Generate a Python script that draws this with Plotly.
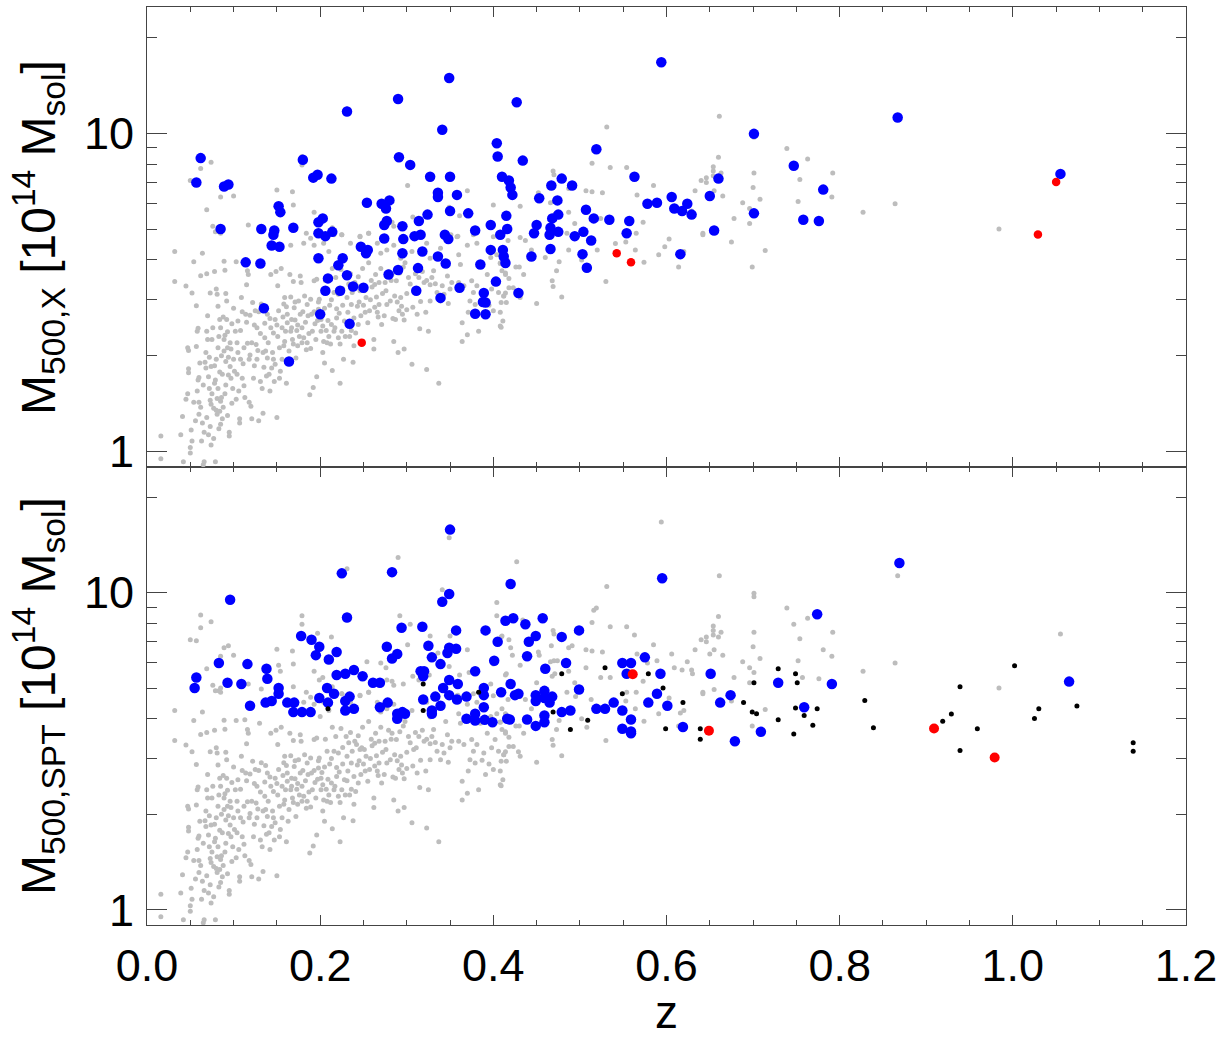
import plotly.graph_objects as go

# ---------------- data ----------------
# background sample (same in both panels)
gray_z = [
    0.016, 0.016, 0.032, 0.032, 0.039, 0.041, 0.042, 0.045, 0.045, 0.047,
    0.048, 0.048, 0.048, 0.047, 0.051, 0.052, 0.054, 0.054, 0.050, 0.050,
    0.052, 0.057, 0.057, 0.058, 0.059, 0.060, 0.060, 0.059, 0.060, 0.062,
    0.063, 0.064, 0.064, 0.065, 0.066, 0.067, 0.068, 0.069, 0.069, 0.070,
    0.070, 0.071, 0.072, 0.072, 0.073, 0.073, 0.074, 0.074, 0.075, 0.077,
    0.078, 0.078, 0.078, 0.079, 0.080, 0.080, 0.081, 0.081, 0.081, 0.082,
    0.082, 0.083, 0.084, 0.084, 0.085, 0.085, 0.085, 0.087, 0.087, 0.089,
    0.089, 0.089, 0.090, 0.090, 0.090, 0.091, 0.092, 0.092, 0.093, 0.094,
    0.094, 0.095, 0.095, 0.097, 0.097, 0.099, 0.100, 0.101, 0.102, 0.103,
    0.103, 0.105, 0.105, 0.107, 0.107, 0.109, 0.110, 0.110, 0.111, 0.112,
    0.113, 0.114, 0.115, 0.116, 0.116, 0.117, 0.118, 0.119, 0.120, 0.121,
    0.122, 0.124, 0.125, 0.126, 0.127, 0.128, 0.129, 0.130, 0.131, 0.132,
    0.133, 0.134, 0.135, 0.136, 0.136, 0.137, 0.138, 0.139, 0.139, 0.141,
    0.142, 0.142, 0.143, 0.144, 0.145, 0.146, 0.147, 0.148, 0.149, 0.150,
    0.150, 0.151, 0.152, 0.153, 0.154, 0.155, 0.156, 0.157, 0.158, 0.159,
    0.159, 0.160, 0.161, 0.162, 0.162, 0.164, 0.165, 0.166, 0.166, 0.167,
    0.169, 0.169, 0.170, 0.171, 0.172, 0.173, 0.174, 0.175, 0.176, 0.177,
    0.178, 0.179, 0.180, 0.181, 0.182, 0.184, 0.185, 0.186, 0.188, 0.189,
    0.189, 0.191, 0.192, 0.193, 0.193, 0.194, 0.196, 0.196, 0.197, 0.198,
    0.199, 0.200, 0.201, 0.202, 0.203, 0.203, 0.204, 0.205, 0.206, 0.207,
    0.208, 0.209, 0.210, 0.211, 0.212, 0.213, 0.214, 0.214, 0.216, 0.216,
    0.218, 0.219, 0.219, 0.221, 0.221, 0.223, 0.223, 0.224, 0.225, 0.226,
    0.227, 0.228, 0.229, 0.230, 0.231, 0.232, 0.233, 0.234, 0.235, 0.236,
    0.237, 0.238, 0.239, 0.239, 0.241, 0.242, 0.243, 0.244, 0.244, 0.246,
    0.247, 0.248, 0.249, 0.250, 0.252, 0.253, 0.255, 0.256, 0.257, 0.259,
    0.260, 0.262, 0.262, 0.263, 0.264, 0.265, 0.266, 0.267, 0.268, 0.270,
    0.271, 0.272, 0.274, 0.275, 0.277, 0.279, 0.281, 0.283, 0.284, 0.285,
    0.286, 0.287, 0.288, 0.290, 0.291, 0.292, 0.293, 0.294, 0.295, 0.296,
    0.297, 0.297, 0.298, 0.300, 0.300, 0.302, 0.304, 0.306, 0.307, 0.308,
    0.310, 0.311, 0.312, 0.314, 0.315, 0.316, 0.318, 0.320, 0.322, 0.323,
    0.323, 0.325, 0.327, 0.327, 0.329, 0.331, 0.333, 0.335, 0.337, 0.339,
    0.341, 0.343, 0.345, 0.347, 0.348, 0.350, 0.352, 0.360, 0.362, 0.364,
    0.364, 0.366, 0.370, 0.371, 0.373, 0.375, 0.377, 0.379, 0.381, 0.383,
    0.385, 0.387, 0.389, 0.391, 0.393, 0.395, 0.397, 0.398, 0.400, 0.402,
    0.406, 0.408, 0.409, 0.412, 0.414,
    0.083, 0.166, 0.181, 0.189, 0.193, 0.204, 0.210, 0.216, 0.225, 0.235,
    0.246, 0.256, 0.266, 0.270, 0.277, 0.285, 0.293, 0.306, 0.323, 0.327,
    0.339, 0.358, 0.360, 0.370, 0.381, 0.400, 0.404, 0.408,
    0.050, 0.057, 0.062, 0.062, 0.074, 0.069, 0.076, 0.079, 0.085, 0.085,
    0.089, 0.094, 0.085, 0.100, 0.117, 0.132, 0.150, 0.152, 0.154, 0.168,
    0.169, 0.169, 0.179, 0.179, 0.184, 0.193, 0.197, 0.199, 0.203, 0.213,
    0.214, 0.225, 0.231, 0.246, 0.254, 0.256, 0.270, 0.276, 0.277, 0.283,
    0.285, 0.290, 0.292, 0.296, 0.304, 0.301, 0.307, 0.314, 0.327, 0.326,
    0.336, 0.341, 0.349, 0.350, 0.349, 0.351, 0.359, 0.361, 0.370, 0.372,
    0.377, 0.397, 0.404, 0.404, 0.409, 0.400, 0.414,
    0.427, 0.410, 0.415, 0.418, 0.420, 0.422, 0.431, 0.434, 0.452, 0.453,
    0.450, 0.467, 0.469, 0.470, 0.466, 0.470, 0.474, 0.468, 0.471, 0.487,
    0.491, 0.487, 0.485, 0.494, 0.507, 0.507, 0.514, 0.526, 0.514, 0.516,
    0.519, 0.531, 0.535, 0.554, 0.563, 0.566, 0.585, 0.589, 0.578, 0.524,
    0.535, 0.573, 0.594, 0.606, 0.609, 0.618, 0.624, 0.629, 0.630, 0.633,
    0.640, 0.646, 0.646, 0.650, 0.655, 0.654, 0.654, 0.660, 0.660, 0.654,
    0.663, 0.661, 0.665, 0.642, 0.655, 0.678, 0.688, 0.696, 0.701, 0.701,
    0.701, 0.700, 0.701, 0.708, 0.696, 0.739, 0.747, 0.754, 0.752, 0.757,
    0.763, 0.781, 0.791, 0.792, 0.776,
    0.431, 0.437, 0.444, 0.417, 0.410, 0.414, 0.416, 0.408, 0.410, 0.414,
    0.418, 0.423, 0.418, 0.414, 0.412, 0.415, 0.429, 0.431, 0.435, 0.411,
    0.409, 0.408, 0.426, 0.430, 0.450, 0.468, 0.469, 0.479, 0.473, 0.460,
    0.476, 0.487, 0.495, 0.502, 0.508, 0.513, 0.520, 0.530, 0.541, 0.553,
    0.564, 0.574, 0.591, 0.598, 0.603, 0.614, 0.616, 0.620, 0.642, 0.675,
    0.699, 0.714, 0.565, 0.554,
    0.867, 0.864, 0.827, 0.984, 1.055,
    0.056, 0.058, 0.061, 0.062, 0.065, 0.066, 0.068, 0.069, 0.071, 0.073,
    0.074, 0.075, 0.076, 0.077, 0.079, 0.080, 0.082, 0.083, 0.084, 0.086,
    0.086, 0.088, 0.088, 0.091, 0.091, 0.093, 0.093, 0.096, 0.096, 0.098,
    0.098, 0.100, 0.104, 0.104, 0.106, 0.108, 0.108, 0.112, 0.113, 0.115,
    0.118, 0.119, 0.121, 0.123, 0.124, 0.127, 0.129, 0.131, 0.134, 0.137,
    0.140, 0.143, 0.146, 0.148, 0.151, 0.153, 0.156, 0.158, 0.161, 0.163,
    0.167, 0.168, 0.171, 0.174, 0.177, 0.179, 0.183, 0.185, 0.187, 0.190,
    0.195, 0.198, 0.201, 0.205, 0.208, 0.213, 0.217, 0.222, 0.226, 0.231,
    0.236, 0.240, 0.245, 0.251, 0.258, 0.263, 0.268, 0.276, 0.282, 0.289,
]
gray_m = [
    1.12, 0.95, 4.25, 3.42, 1.13, 1.29, 0.93, 3.31, 1.46, 2.12,
    2.08, 1.82, 1.77, 1.52, 1.17, 3.15, 3.95, 1.43, 1.03, 0.99,
    1.08, 2.87, 2.14, 2.39, 2.44, 1.43, 1.31, 1.68, 1.71, 3.57,
    1.08, 4.2, 1.23, 0.91, 0.93, 1.91, 1.83, 3.62, 2.39, 2.67,
    2.25, 1.13, 1.58, 1.98, 1.45, 3.15, 1.41, 1.05, 2.25, 1.37,
    3.68, 1.86, 1.64, 0.93, 1.95, 3.24, 3.12, 1.31, 1.47, 2.86,
    2.12, 1.18, 2.6, 1.34, 1.22, 2.45, 1.44, 1.27, 1.75, 2.07,
    2.25, 3.96, 3.71, 1.52, 2.32, 3.14, 2.97, 2.6, 2.12, 1.74,
    1.98, 1.15, 1.12, 1.7, 2.1, 1.58, 2.82, 1.79, 2.39, 1.46,
    3.95, 2.05, 2.57, 1.27, 1.23, 3.05, 1.7, 2.75, 1.89, 1.61,
    3.97, 2.7, 3.34, 3.7, 2.19, 3.6, 1.43, 2.01, 1.39, 1.27,
    2.94, 1.86, 2.77, 2.17, 2.45, 2.08, 1.25, 3.87, 1.66, 2.91,
    1.58, 1.32, 1.84, 2.53, 2.28, 2.07, 1.73, 1.97, 2.7, 1.75,
    1.55, 2.62, 3.6, 1.83, 2.05, 2.36, 1.66, 1.88, 3.68, 1.28,
    2.5, 3.32, 2.77, 2.12, 1.79, 3.76, 1.95, 2.65, 2.91, 3.05,
    2.22, 2.39, 1.64, 2.7, 2.54, 2.07, 3.6, 3.06, 2.39, 2.45,
    3.42, 2.18, 2.83, 2.59, 1.97, 2.4, 2.15, 2.97, 2.3, 3.56,
    3.4, 2.45, 2.75, 2.28, 3.08, 2.09, 2.2, 2.67, 1.51, 3.01,
    2.11, 2.39, 1.59, 3.44, 2.75, 2.52, 3.48, 1.72, 2.58, 2.8,
    3.01, 4.07, 2.39, 2.71, 2.05, 2.48, 2.22, 1.9, 3.45, 2.4,
    3.16, 2.58, 2.3, 2.88, 2.18, 2.51, 1.8, 3.76, 2.39, 3.16,
    3.52, 2.63, 2.81, 2.28, 3.12, 2.18, 1.64, 3.73, 2.39, 2.88,
    1.95, 2.57, 2.3, 3.52, 3.05, 2.74, 3.36, 2.3, 3.62, 2.4,
    3.16, 1.91, 2.15, 2.63, 2.36, 3.32, 2.86, 2.51, 3.54, 3.2,
    2.67, 3.24, 3.76, 2.88, 2.74, 3.05, 2.54, 3.92, 2.77, 3.45,
    3.29, 2.25, 2.1, 2.84, 3.6, 3.06, 2.74, 2.65, 3.4, 3.76,
    2.51, 3.14, 2.67, 3.4, 2.9, 3.68, 2.97, 3.6, 2.62, 2.22,
    3.08, 2.6, 3.44, 2.05, 2.77, 3.64, 3.05, 2.86, 2.7, 3.8,
    2.59, 2.1, 3.92, 3.14, 2.79, 3.52, 3.36, 1.88, 2.84, 3.2,
    3.62, 3.24, 2.7, 3.52, 2.43, 2.96, 3.68, 3.4, 2.74, 1.81,
    3.45, 2.39, 3.34, 2.97, 3.52, 3.7, 3.37, 3.16, 1.64, 2.97,
    3.32, 3.12, 3.92, 3.56, 2.92, 3.24, 3.4, 3.4, 3.87, 2.54,
    2.22, 3.32, 2.33, 2.74, 2.97, 3.44, 3.16, 2.9, 3.32, 2.39,
    3.87, 2.96, 3.12, 2.67, 3.6, 2.88, 4.07, 3.24, 2.77, 3.44,
    3.16, 2.48, 2.94, 3.08, 3.64,
    4.9, 4.45, 4.51, 4.68, 4.45, 4.51, 4.25, 4.8, 4.8, 4.51,
    4.73, 4.85, 4.51, 4.2, 4.3, 4.45, 4.05, 4.25, 4.51, 4.05,
    4.35, 4.73, 4.15, 4.45, 4.51, 4.73, 4.15, 3.91,
    7.1, 7.05, 8.5, 7.75, 8.1, 5.75, 5.1, 4.9, 5.0, 4.85,
    6.7, 6.8, 6.3, 6.35, 5.15, 4.97, 6.63, 5.9, 5.65, 6.55,
    5.95, 5.05, 8.45, 7.95, 4.85, 5.65, 7.45, 5.3, 5.4, 7.25,
    5.05, 4.8, 11.9, 4.75, 6.05, 4.85, 6.0, 5.8, 5.3, 5.25,
    5.1, 12.9, 8.45, 5.15, 7.95, 6.85, 5.45, 5.3, 7.3, 5.5,
    6.45, 10.2, 14.9, 7.3, 5.85, 4.8, 4.75, 5.5, 6.6, 5.6,
    4.8, 5.15, 9.3, 8.45, 7.25, 5.95, 5.5,
    12.5, 7.3, 5.55, 7.1, 6.7, 6.35, 5.9, 8.2, 6.5, 6.35,
    5.2, 6.8, 7.6, 7.4, 6.05, 6.1, 6.1, 5.45, 5.55, 6.7,
    6.8, 5.65, 4.85, 5.2, 6.6, 5.8, 6.55, 6.5, 8.05, 8.8,
    8.95, 10.45, 7.8, 7.8, 7.35, 6.4, 6.85, 6.1, 6.0, 5.4,
    5.4, 5.25, 16.7, 6.4, 5.8, 5.7, 6.05, 5.7, 5.55, 6.6,
    7.1, 7.25, 7.0, 6.4, 6.6, 7.6, 7.35, 7.25, 8.4, 7.85,
    7.5, 11.3, 6.35, 4.85, 4.95, 5.4, 6.05, 5.8, 9.95, 9.7,
    7.5, 6.75, 5.6, 6.2, 5.2, 8.95, 7.95, 7.15, 6.1, 5.4,
    8.3, 6.6, 6.3, 7.5, 5.35,
    4.7, 4.6, 4.3, 4.6, 4.3, 4.15, 4.0, 3.9, 3.7, 3.6,
    3.5, 3.27, 3.27, 3.15, 3.08, 2.94, 3.15, 3.05, 3.6, 2.57,
    2.46, 2.74, 3.8, 3.8, 2.92, 3.44, 3.3, 3.06, 3.7, 4.07,
    3.95, 4.3, 4.7, 4.0, 3.76, 4.6, 4.3, 3.42, 4.5, 4.55,
    4.3, 3.93, 4.15, 4.4, 4.65, 3.8, 4.17, 4.25, 4.8, 4.55,
    3.8, 4.28, 4.85, 4.85,
    11.3, 6.0, 5.65, 5.0, 7.4,
    1.25, 1.55, 1.9, 1.38, 1.62, 1.15, 2.05, 1.28, 1.72, 1.2,
    1.85, 1.52, 2.45, 1.1, 1.68, 1.35, 1.58, 2.3, 1.78, 1.48,
    2.0, 1.38, 2.65, 1.62, 1.92, 1.3, 2.38, 1.85, 2.2, 1.42,
    2.52, 1.95, 1.75, 2.2, 1.55, 2.4, 1.95, 2.12, 1.48, 2.55,
    1.95, 2.68, 2.2, 1.7, 2.5, 1.95, 2.75, 2.35, 2.05, 2.85,
    2.2, 2.45, 1.95, 2.6, 2.3, 1.7, 2.45, 2.15, 2.85, 1.9,
    2.6, 2.25, 2.95, 2.5, 2.7, 2.2, 2.55, 2.9, 2.35, 2.7,
    2.25, 2.95, 2.6, 2.82, 2.2, 3.0, 2.45, 2.72, 3.25, 2.55,
    2.9, 3.4, 2.95, 3.2, 3.0, 3.35, 2.9, 3.2, 3.45, 2.95,
]

# top panel: X-ray masses
xray_blue_z = [
    0.057, 0.062, 0.085, 0.089, 0.094, 0.132, 0.147, 0.146, 0.152, 0.154,
    0.169, 0.180, 0.192, 0.197, 0.213, 0.198, 0.203, 0.198, 0.206, 0.214,
    0.231, 0.254, 0.271, 0.276, 0.280, 0.277, 0.274, 0.274, 0.290, 0.291,
    0.304, 0.295, 0.296, 0.314, 0.324, 0.309, 0.316, 0.327, 0.336, 0.336,
    0.341, 0.349, 0.350, 0.350, 0.358, 0.344, 0.348, 0.371, 0.379, 0.397,
    0.404, 0.405, 0.410, 0.415, 0.408,
    0.427, 0.434, 0.418, 0.420, 0.422, 0.416, 0.453, 0.467, 0.479, 0.491,
    0.474, 0.475, 0.468, 0.466, 0.465, 0.475, 0.450, 0.447, 0.507, 0.516,
    0.504, 0.494, 0.513, 0.519, 0.534, 0.557, 0.554, 0.563, 0.578, 0.589,
    0.606, 0.609, 0.618, 0.624, 0.629, 0.594, 0.650, 0.660, 0.655, 0.701,
    0.701, 0.747, 0.758, 0.776, 0.781,
    0.144, 0.153, 0.114, 0.131, 0.198, 0.226, 0.247, 0.253, 0.255, 0.295,
    0.318, 0.336, 0.345, 0.397, 0.411, 0.414, 0.221, 0.209, 0.231, 0.206,
    0.223, 0.238, 0.250, 0.279, 0.290, 0.311, 0.313, 0.339, 0.361, 0.385,
    0.403, 0.389, 0.388, 0.391, 0.379, 0.391, 0.135, 0.200, 0.234, 0.164,
    0.412, 0.429, 0.444, 0.466, 0.503, 0.508, 0.616,
    0.867, 1.055,
]
xray_blue_m = [
    7.0, 8.35, 5.0, 6.8, 6.9, 5.0, 4.95, 4.8, 5.9, 5.65,
    5.05, 8.25, 7.25, 7.4, 7.2, 5.25, 5.4, 4.85, 4.75, 4.9,
    11.7, 6.05, 6.0, 5.8, 6.15, 5.3, 5.15, 4.67, 12.8, 8.4,
    7.95, 5.1, 4.65, 5.3, 5.55, 4.75, 4.8, 7.3, 6.5, 6.3,
    10.25, 14.9, 7.3, 5.7, 6.4, 4.8, 4.65, 5.6, 4.95, 5.15,
    9.3, 8.45, 7.3, 5.5, 4.8,
    12.5, 8.2, 7.1, 6.75, 6.4, 5.0, 6.25, 6.85, 7.2, 6.85,
    6.15, 5.55, 5.4, 5.05, 4.8, 4.9, 5.15, 4.85, 5.75, 5.4,
    4.9, 4.75, 4.6, 8.9, 5.35, 5.3, 4.85, 7.3, 6.0, 6.05,
    6.3, 5.8, 5.7, 6.0, 5.55, 16.7, 6.35, 7.2, 4.95, 9.95,
    5.6, 7.9, 5.35, 5.3, 6.65,
    4.44, 4.4, 3.93, 3.9, 4.05, 4.05, 4.4, 4.2, 4.3, 4.2,
    4.25, 4.1, 3.9, 4.3, 4.3, 3.91, 3.85, 3.5, 3.58, 3.2,
    3.2, 3.3, 3.27, 3.6, 3.72, 3.2, 3.77, 3.04, 3.27, 3.87,
    3.42, 3.15, 2.95, 2.94, 2.71, 2.7, 2.82, 2.7, 2.52, 1.92,
    4.1, 3.15, 4.1, 4.33, 4.17, 3.78, 4.17,
    11.2, 7.45,
]
xray_red_z = [0.248, 0.5425, 0.559, 1.029, 1.050]
xray_red_m = [2.2, 4.2, 3.93, 4.81, 7.03]

# bottom panel: SPT masses
spt_blue_z = [
    0.055, 0.057, 0.083, 0.093, 0.096, 0.109, 0.116, 0.138, 0.139, 0.152,
    0.152, 0.178, 0.190, 0.195, 0.199, 0.210, 0.219, 0.219, 0.229, 0.239,
    0.249, 0.261, 0.269, 0.225, 0.231, 0.208, 0.216, 0.277, 0.283, 0.289,
    0.283, 0.294, 0.318, 0.325, 0.329, 0.339, 0.316, 0.320, 0.319, 0.342,
    0.349, 0.359, 0.333, 0.319, 0.341, 0.349, 0.350, 0.357, 0.347, 0.349,
    0.357, 0.379, 0.389, 0.391, 0.405, 0.401, 0.409, 0.358, 0.369, 0.389,
    0.119, 0.137, 0.144, 0.162, 0.170, 0.169, 0.179, 0.189, 0.199, 0.209,
    0.229, 0.234, 0.229, 0.239, 0.269, 0.278, 0.289, 0.289, 0.295, 0.298,
    0.329, 0.329, 0.339, 0.349, 0.369, 0.379, 0.379, 0.389, 0.390, 0.399,
    0.416,
    0.420, 0.414, 0.423, 0.437, 0.441, 0.449, 0.457, 0.439, 0.479, 0.499,
    0.460, 0.484, 0.420, 0.425, 0.429, 0.449, 0.459, 0.459, 0.468, 0.499,
    0.549, 0.559, 0.554, 0.575, 0.593, 0.595, 0.589, 0.651, 0.674, 0.729,
    0.774, 0.791,
    0.449, 0.465, 0.419, 0.439, 0.449, 0.459, 0.459, 0.479, 0.489, 0.519,
    0.529, 0.539, 0.549, 0.549, 0.559, 0.559, 0.559, 0.579, 0.601, 0.619,
    0.662, 0.679, 0.709, 0.759,
    0.869, 1.065,
]
spt_blue_m = [
    5.0, 5.4, 6.0, 5.2, 9.5, 5.15, 5.95, 5.75, 5.35, 5.0,
    4.8, 7.3, 7.1, 6.35, 6.75, 6.15, 6.5, 5.5, 5.55, 5.7,
    5.45, 5.2, 5.2, 11.5, 8.35, 5.0, 4.8, 6.75, 6.2, 6.4,
    11.6, 7.75, 7.8, 6.8, 6.25, 5.95, 5.65, 5.65, 5.45, 5.0,
    5.3, 5.15, 4.7, 4.6, 9.35, 9.9, 15.8, 7.6, 6.45, 6.7,
    6.65, 5.65, 5.0, 7.6, 7.0, 6.1, 4.85, 4.6, 4.7, 4.75,
    4.4, 4.5, 4.55, 4.5, 4.5, 4.2, 4.2, 4.2, 4.65, 4.5,
    4.55, 4.7, 4.25, 4.3, 4.35, 4.5, 4.15, 4.0, 4.2, 4.15,
    4.25, 4.15, 4.4, 4.75, 4.0, 4.15, 3.95, 4.35, 3.97, 3.9,
    4.0,
    10.65, 8.15, 8.3, 7.95, 7.0, 7.3, 8.3, 6.3, 7.25, 7.6,
    5.75, 6.0, 5.15, 4.75, 4.8, 4.75, 4.9, 4.65, 4.7, 4.95,
    6.0, 6.0, 5.55, 6.25, 5.55, 11.1, 4.8, 5.55, 4.75, 5.2,
    8.55, 5.15,
    4.55, 4.5, 3.98, 3.98, 3.8, 4.1, 3.9, 4.2, 4.25, 4.3,
    4.3, 4.5, 4.25, 3.72, 3.98, 3.65, 3.6, 4.5, 4.4, 3.77,
    4.5, 3.4, 3.64, 4.35,
    12.4, 5.24,
]
spt_black_z = [
    0.319, 0.383, 0.209, 0.319, 0.479, 0.529, 0.579, 0.596, 0.549, 0.701,
    0.729, 0.749, 0.751, 0.469, 0.489, 0.509, 0.599, 0.619, 0.639, 0.639,
    0.689, 0.699, 0.704, 0.729, 0.747, 0.749, 0.759, 0.769, 0.774, 0.829,
    0.839, 0.919, 0.929, 0.939, 0.959, 0.939, 1.002, 1.030, 1.025, 1.074,
    1.139, 1.139,
]
spt_black_m = [
    5.15, 4.85, 4.3, 4.25, 5.55, 5.8, 5.55, 5.0, 4.8, 5.2,
    5.75, 5.55, 5.2, 4.2, 3.7, 3.96, 3.72, 4.5, 3.72, 3.45,
    4.5, 4.2, 4.15, 3.97, 3.58, 4.33, 4.1, 3.82, 4.3, 4.57,
    3.75, 3.93, 4.14, 5.05, 3.72, 3.18, 5.88, 4.3, 4.01, 4.39,
    3.36, 3.16,
]
spt_red_z = [0.561, 0.649, 0.909, 0.979]
spt_red_m = [5.53, 3.67, 3.73, 3.02]

x_tickvals = [0.0, 0.2, 0.4, 0.6, 0.8, 1.0, 1.2]
x_ticktext = ["0.0", "0.2", "0.4", "0.6", "0.8", "1.0", "1.2"]
y_tickvals = [1, 10]
y_ticktext = ["1", "10"]
y_minor = [2, 3, 4, 5, 6, 7, 8, 9, 20]

# ---------------- figure ----------------
GRAY = "#bdbdbd"
fig = go.Figure()


def pts(xs, ys, color, size, xa, ya):
    fig.add_trace(go.Scatter(
        x=xs, y=ys, mode="markers", xaxis=xa, yaxis=ya,
        marker=dict(color=color, size=size, line=dict(width=0)),
        showlegend=False, hoverinfo="skip"))


# top panel
pts(gray_z, gray_m, GRAY, 5, "x2", "y2")
pts(xray_blue_z, xray_blue_m, "#0000ff", 10.5, "x2", "y2")
pts(xray_red_z, xray_red_m, "#ff0000", 8.5, "x2", "y2")
# bottom panel
pts(gray_z, gray_m, GRAY, 5, "x", "y")
pts(spt_blue_z, spt_blue_m, "#0000ff", 10.5, "x", "y")
pts(spt_black_z, spt_black_m, "#000000", 5, "x", "y")
pts(spt_red_z, spt_red_m, "#ff0000", 10, "x", "y")

AX = "#444444"
FONT = dict(family="Liberation Sans, Arial, sans-serif", size=45, color="black")
TFONT = dict(family="Liberation Sans Narrow, Liberation Sans, Arial, sans-serif",
             size=48, color="black")
yr = [-0.048, 1.396]
split = 458 / 918

common = dict(showline=True, linecolor=AX, linewidth=1, mirror="allticks",
              ticks="inside", tickcolor=AX, tickwidth=1.2,
              showgrid=False, zeroline=False, tickfont=FONT)

xcommon = dict(common, range=[0, 1.2], tickmode="array", tickvals=x_tickvals,
               ticktext=x_ticktext, ticklen=10,
               minor=dict(dtick=0.05, tick0=0, ticks="inside", ticklen=5,
                          tickcolor=AX, tickwidth=1.2))
ycommon = dict(common, type="log", range=yr, tickmode="array",
               tickvals=y_tickvals, ticktext=y_ticktext, ticklen=20,
               ticklabelstandoff=3,
               minor=dict(tickmode="array", tickvals=y_minor, ticks="inside",
                          ticklen=10, tickcolor=AX, tickwidth=1.2))

fig.update_layout(
    width=1224, height=1038,
    margin=dict(l=147, r=38, t=7, b=113),
    paper_bgcolor="white", plot_bgcolor="white",
    xaxis=dict(xcommon, domain=[0, 1], anchor="y", ticklabelstandoff=1),
    xaxis2=dict(xcommon, domain=[0, 1], anchor="y2", matches="x",
                showticklabels=False),
    yaxis=dict(ycommon, domain=[0, split], anchor="x"),
    yaxis2=dict(ycommon, domain=[split, 1], anchor="x2"),
    annotations=[
        dict(text="M<sub>500,X</sub> [10<sup>14</sup> M<sub>sol</sub>]",
             xref="paper", yref="y2 domain", x=-0.105, y=0.5,
             xanchor="center", yanchor="middle", textangle=-90,
             showarrow=False, font=TFONT),
        dict(text="M<sub>500,SPT</sub> [10<sup>14</sup> M<sub>sol</sub>]",
             xref="paper", yref="y domain", x=-0.105, y=0.5,
             xanchor="center", yanchor="middle", textangle=-90,
             showarrow=False, font=TFONT),
        dict(text="z", xref="paper", yref="paper", x=0.5, y=-0.095,
             xanchor="center", yanchor="middle", showarrow=False,
             font=dict(TFONT, size=46)),
    ],
)

fig.write_html("out.html")
